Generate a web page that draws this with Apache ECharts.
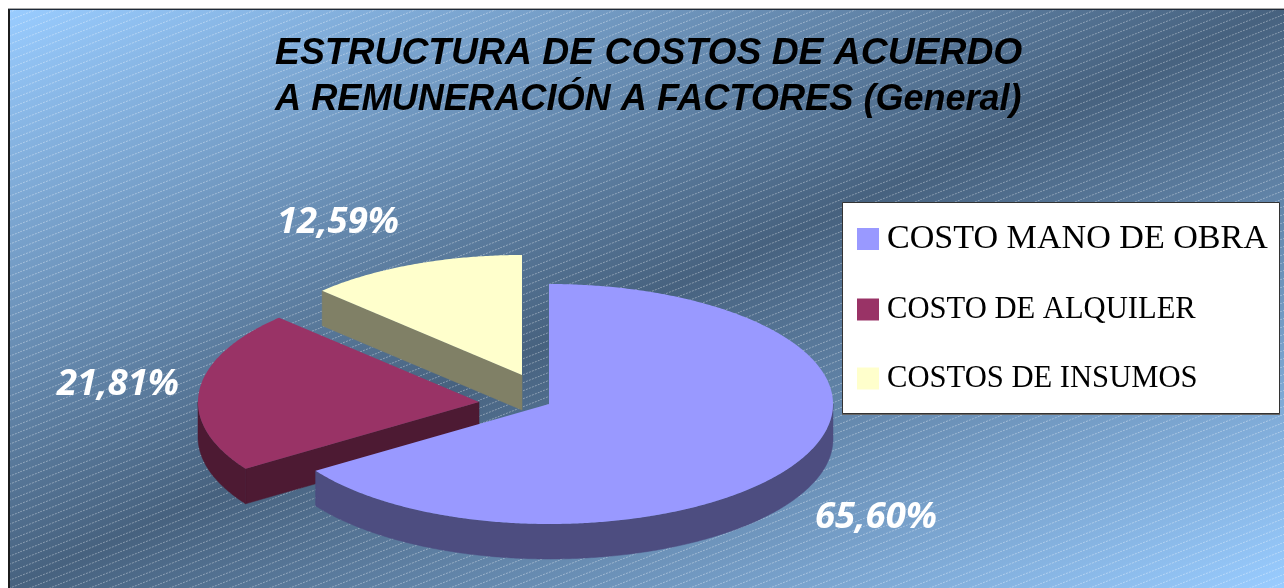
<!DOCTYPE html>
<html><head><meta charset="utf-8">
<style>html,body{margin:0;padding:0;background:#fff}#c{width:1284px;height:588px}</style>
<script src="https://cdn.jsdelivr.net/npm/echarts@6/dist/echarts.min.js"></script>
</head><body><div id="c"></div>
<script>
// ---------- data ----------
const categories = ['COSTO MANO DE OBRA', 'COSTO DE ALQUILER', 'COSTOS DE INSUMOS'];
const shares = [65.60, 21.81, 12.59];
const valueLabels = ['65,60%', '21,81%', '12,59%'];
const titleLines = ['ESTRUCTURA DE COSTOS DE ACUERDO', 'A REMUNERACIÓN A FACTORES '];
const titleSuffix = '(General)';

// ---------- styling / layout ----------
const topColors = ['#9999FF', '#993366', '#FFFFCC'];
const wallColors = ['#4D4D80', '#4D1A33', '#808066'];
const sliceCenters = [[549, 404], [479, 402], [522, 375]];
const labelCenters = [[876, 518], [118, 385], [338, 223]];
const RX_RIGHT = 284, RX_LEFT = 281, RY = 120, DEPTH = 35;
const W = 1284, H = 588, L = 9, T = 9;

const total = shares.reduce((a, b) => a + b, 0);
const spans = [];
shares.reduce((acc, v, i) => { const e = acc + v / total * 360; spans[i] = [acc, e]; return e; }, 0);

function pt(c, deg, dy) {
  const a = deg * Math.PI / 180, s = Math.sin(a);
  return [c[0] + (s < 0 ? RX_LEFT : RX_RIGHT) * s, c[1] - RY * Math.cos(a) + (dy || 0)];
}
function arc(c, a0, a1, dy) {
  const out = [], n = Math.max(2, Math.ceil(Math.abs(a1 - a0) * 2));
  for (let i = 0; i <= n; i++) out.push(pt(c, a0 + (a1 - a0) * i / n, dy));
  return out;
}
function renderSlice(idx) {
  return function () {
    const [a0, a1] = spans[idx], c = sliceCenters[idx], kids = [];
    const wall = wallColors[idx];
    const poly = (points) => kids.push({ type: 'polygon', shape: { points },
      style: { fill: wall, stroke: wall, lineWidth: 0.5 } });
    if (Math.sin(a0 * Math.PI / 180) < -1e-6) poly([c, pt(c, a0), pt(c, a0, DEPTH), [c[0], c[1] + DEPTH]]);
    if (Math.sin(a1 * Math.PI / 180) > 1e-6) poly([c, pt(c, a1), pt(c, a1, DEPTH), [c[0], c[1] + DEPTH]]);
    const lo = Math.max(a0, 90), hi = Math.min(a1, 270);
    if (hi > lo) poly(arc(c, lo, hi, 0).concat(arc(c, hi, lo, DEPTH)));
    kids.push({ type: 'polygon', shape: { points: [c].concat(arc(c, a0, a1, 0)) },
      style: { fill: topColors[idx] } });
    kids.push({ type: 'text', style: {
      x: labelCenters[idx][0], y: labelCenters[idx][1], text: valueLabels[idx],
      fill: '#fff', font: 'italic bold 36.5px "Open Sans"', textAlign: 'center', textVerticalAlign: 'middle' } });
    return { type: 'group', children: kids };
  };
}

function stripeTile() {
  const cv = document.createElement('canvas');
  cv.width = 20; cv.height = 8;
  const g = cv.getContext('2d');
  g.strokeStyle = 'rgba(255,255,255,0.36)'; g.lineWidth = 1; g.setLineDash([2, 1.2]);
  g.beginPath(); g.moveTo(0, 8); g.lineTo(20, 0); g.stroke();
  return cv;
}

// gradient isolines run parallel to the box's other diagonal
const bw = W - L, bh = H - T, k = 2 * (bw * bh) / (bw * bw + bh * bh);
const gradient = new echarts.graphic.LinearGradient(L, T, L + bh * k, T + bw * k, [
  { offset: 0, color: '#99CCFF' }, { offset: 0.5, color: '#47627F' }, { offset: 1, color: '#99CCFF' }
], true);

const chart = echarts.init(document.getElementById('c'), null, { renderer: 'canvas' });
chart.setOption({
  animation: false,
  backgroundColor: '#fff',
  title: {
    left: 270, top: 25,
    text: '{a|' + titleLines[0] + '}\n{t|' + titleLines[1] + '}{s|' + titleSuffix + '}',
    textStyle: { rich: {
      a: { fontFamily: 'Liberation Sans', fontStyle: 'italic', fontWeight: 'bold', fontSize: 37.3, lineHeight: 47, color: '#000' },
      t: { fontFamily: 'Liberation Sans', fontStyle: 'italic', fontWeight: 'bold', fontSize: 36.2, lineHeight: 47, color: '#000' },
      s: { fontFamily: 'Liberation Sans', fontStyle: 'italic', fontWeight: 'bold', fontSize: 36, lineHeight: 47, color: '#000' }
    } }
  },
  legend: {
    left: 857, top: 222, orient: 'vertical', padding: 0,
    itemWidth: 22, itemHeight: 22, itemGap: 38,
    data: categories, icon: 'rect', selectedMode: false,
    formatter: n => '{' + (n === categories[0] ? 'a' : 'b') + '|' + n + '}',
    textStyle: { rich: {
      a: { fontFamily: 'Liberation Serif', fontSize: 34.1, lineHeight: 40, color: '#000', padding: [0, 0, 0, 3] },
      b: { fontFamily: 'Liberation Serif', fontSize: 30.6, lineHeight: 40, color: '#000', padding: [0, 0, 0, 3] }
    } }
  },
  graphic: { elements: [
    { type: 'rect', z: -10, silent: true, shape: { x: L, y: T, width: bw, height: bh }, style: { fill: gradient } },
    { type: 'rect', z: -9, silent: true, shape: { x: L, y: T, width: bw, height: bh },
      style: { fill: { image: stripeTile(), repeat: 'repeat' } } },
    { type: 'rect', z: -8, silent: true, shape: { x: 8, y: 9, width: 2, height: H - 9 }, style: { fill: '#1c1c1c' } },
    { type: 'rect', z: -8, silent: true, shape: { x: 8, y: 8, width: W - 8, height: 1 }, style: { fill: '#a8a8a8' } },
    { type: 'rect', z: -8, silent: true, shape: { x: 9, y: 9, width: W - 9, height: 1 }, style: { fill: '#1f2a38' } },
    { type: 'rect', z: -7, silent: true, shape: { x: 842, y: 413, width: 438, height: 2 }, style: { fill: '#666' } },
    { type: 'rect', z: -7, silent: true, shape: { x: 842.5, y: 202.5, width: 437, height: 211 },
      style: { fill: '#fff', stroke: '#333', lineWidth: 1 } }
  ] },
  // drawn back to front
  series: [2, 1, 0].map(i => ({
    type: 'custom', name: categories[i], coordinateSystem: 'none', silent: true,
    itemStyle: { color: topColors[i] },
    data: [shares[i]], renderItem: renderSlice(i)
  }))
});
</script></body></html>
